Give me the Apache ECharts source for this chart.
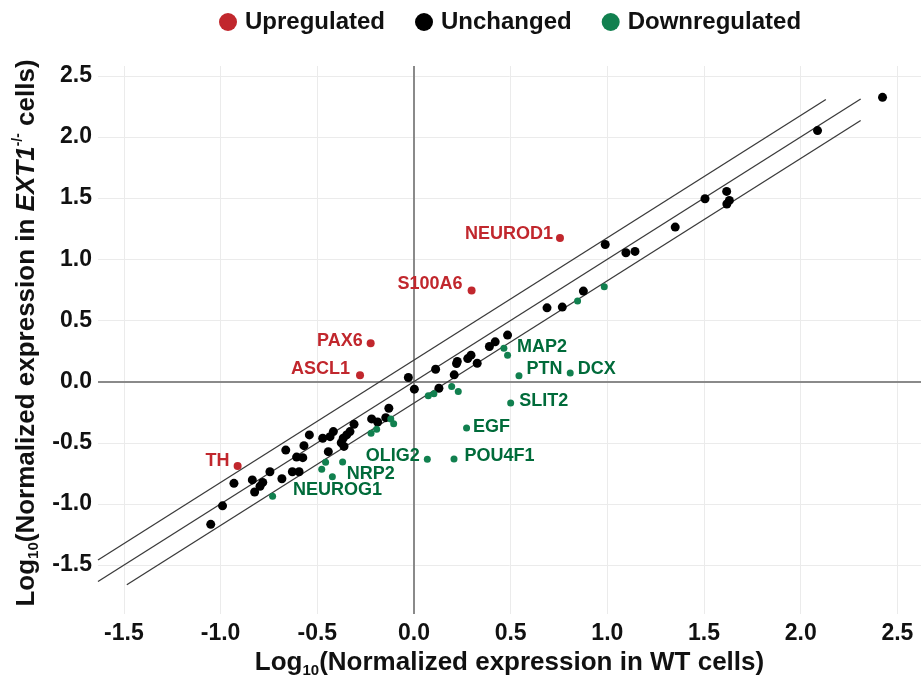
<!DOCTYPE html>
<html>
<head>
<meta charset="utf-8">
<script src="https://cdn.jsdelivr.net/npm/echarts@6/dist/echarts.min.js"></script>
<style>
  html, body { margin: 0; padding: 0; background: #fff; }
  #chart { width: 921px; height: 687px; }
</style>
</head>
<body>
<div id="chart"></div>
<script>
// tick values
const xTicks = [-1.5, -1.0, -0.5, 0.0, 0.5, 1.0, 1.5, 2.0, 2.5]
const yTicks = [-1.5, -1.0, -0.5, 0.0, 0.5, 1.0, 1.5, 2.0, 2.5]

// [log10 WT, log10 EXT1-/-, gene]
const upregulated = [
  [0.755, 1.173, 'NEUROD1'],
  [0.298, 0.745, 'S100A6'],
  [-0.224, 0.314, 'PAX6'],
  [-0.279, 0.052, 'ASCL1'],
  [-0.912, -0.690, 'TH']
]

const unchanged = [
  [2.423, 2.324], [2.087, 2.052], [1.617, 1.555], [1.631, 1.481], [1.618, 1.452],
  [1.505, 1.495], [1.351, 1.263], [0.989, 1.121], [1.096, 1.053], [1.143, 1.064],
  [0.876, 0.740], [0.688, 0.603], [0.767, 0.609], [0.484, 0.380], [0.420, 0.325],
  [0.390, 0.287], [0.327, 0.150], [0.295, 0.216], [0.278, 0.188], [0.224, 0.164],
  [0.220, 0.147], [0.112, 0.101], [0.208, 0.055], [0.129, -0.054], [-0.029, 0.033],
  [0.002, -0.062], [-0.130, -0.218], [-0.146, -0.295], [-0.219, -0.305], [-0.188, -0.330],
  [-0.310, -0.349], [-0.331, -0.409], [-0.348, -0.436], [-0.366, -0.463], [-0.376, -0.500],
  [-0.362, -0.530], [-0.417, -0.409], [-0.434, -0.450], [-0.472, -0.463], [-0.443, -0.573],
  [-0.541, -0.436], [-0.569, -0.524], [-0.663, -0.560], [-0.607, -0.617], [-0.575, -0.622],
  [-0.629, -0.737], [-0.594, -0.737], [-0.683, -0.794], [-0.745, -0.737], [-0.782, -0.824],
  [-0.796, -0.856], [-0.824, -0.903], [-0.836, -0.804], [-0.931, -0.832], [-0.990, -1.016],
  [-1.051, -1.167]
]

const downregulated = [
  [0.484, 0.216, 'MAP2'],
  [0.465, 0.273, ''],
  [0.543, 0.047, 'PTN'],
  [0.808, 0.071, 'DCX'],
  [0.500, -0.175, 'SLIT2'],
  [0.272, -0.379, 'EGF'],
  [0.069, -0.635, 'OLIG2'],
  [0.207, -0.633, 'POU4F1'],
  [-0.422, -0.777, 'NRP2'],
  [-0.731, -0.938, 'NEUROG1'],
  [-0.477, -0.717, ''], [-0.457, -0.660, ''], [-0.369, -0.657, ''],
  [-0.222, -0.423, ''], [-0.193, -0.390, ''], [-0.120, -0.305, ''],
  [-0.105, -0.344, ''], [0.074, -0.115, ''], [0.103, -0.100, ''],
  [0.195, -0.040, ''], [0.229, -0.082, ''], [0.846, 0.658, ''],
  [0.984, 0.775, '']
]

// 1.5-fold guide lines (end points)
const upperLine = [[-1.634, -1.458], [2.130, 2.306]]
const equalLine = [[-1.634, -1.634], [2.310, 2.310]]
const lowerLine = [[-1.485, -1.661], [2.310, 2.134]]

// label placement: [position, distance, dy]
const labelPlace = {
  NEUROD1: ['left', 3, -4], S100A6: ['left', 5, -6], PAX6: ['left', 4, -2],
  ASCL1: ['left', 6, -6], TH: ['left', 4, -5],
  MAP2: ['right', 6, -8], PTN: ['right', 4, -7], DCX: ['right', 4, -4],
  SLIT2: ['right', 5, -2], EGF: ['right', 3, -1], OLIG2: ['left', 4, -3],
  POU4F1: ['right', 7, -3], NRP2: ['right', 11, -3], NEUROG1: ['right', 17, -6]
}

const FONT = "'Liberation Sans', Arial, Helvetica, sans-serif"
const RED = '#c1272d'
const GREEN_DOT = '#11804f'
const GREEN_TXT = '#006b3a'

const toItems = (rows, color) => rows.map(r => {
  const item = { value: [r[0], r[1]] }
  const p = labelPlace[r[2]]
  if (r[2] && p) {
    item.label = {
      show: true,
      formatter: r[2],
      position: p[0],
      distance: p[1],
      offset: [0, p[2]],
      color: color,
      fontSize: 18,
      fontWeight: 'bold',
      fontFamily: FONT
    }
  }
  return item
})

const guide = (name, data) => ({
  name: name,
  type: 'line',
  data: data,
  symbol: 'none',
  silent: true,
  clip: false,
  lineStyle: { color: '#3a3a3a', width: 1.3 },
  z: 1
})

const chart = echarts.init(document.getElementById('chart'))

chart.setOption({
  animation: false,
  grid: { left: 98, right: 0, top: 66, bottom: 73 },
  legend: {
    data: ['Upregulated', 'Unchanged', 'Downregulated'],
    top: 5,
    left: 214,
    icon: 'circle',
    itemWidth: 18,
    itemHeight: 18,
    itemGap: 30,
    textStyle: {
      fontSize: 24, fontWeight: 'bold', color: '#111', fontFamily: FONT,
      padding: [0, 0, 0, 3]
    }
  },
  xAxis: {
    type: 'value',
    min: -1.634,
    max: 2.622,
    name: '{n|Log}{s|10}{n|(Normalized expression in WT cells)}',
    nameLocation: 'middle',
    nameGap: 20,
    nameTextStyle: {
      rich: {
        n: { fontSize: 26, fontWeight: 'bold', color: '#111', fontFamily: FONT, lineHeight: 30 },
        s: { fontSize: 15, fontWeight: 'bold', color: '#111', fontFamily: FONT, lineHeight: 14, verticalAlign: 'bottom' }
      }
    },
    axisLine: { show: false },
    axisTick: { show: false, customValues: xTicks },
    axisLabel: {
      customValues: xTicks,
      formatter: v => v.toFixed(1),
      fontSize: 23, fontWeight: 'bold', color: '#111', fontFamily: FONT,
      margin: 8
    },
    splitLine: { show: true, lineStyle: { color: '#ebebeb', width: 1 } }
  },
  yAxis: {
    type: 'value',
    min: -1.9,
    max: 2.58,
    name: '{n|Log}{s|10}{n|(Normalized expression in }{i|EXT1}{p|-/-}{n| cells)}',
    nameLocation: 'middle',
    nameRotate: 90,
    nameGap: 56,
    nameTextStyle: {
      padding: [0, 0, 0, 14],
      rich: {
        n: { fontSize: 26, fontWeight: 'bold', color: '#111', fontFamily: FONT, lineHeight: 30 },
        i: { fontSize: 26, fontWeight: 'bold', fontStyle: 'italic', color: '#111', fontFamily: FONT, lineHeight: 30 },
        s: { fontSize: 15, fontWeight: 'bold', color: '#111', fontFamily: FONT, lineHeight: 14, verticalAlign: 'bottom' },
        p: { fontSize: 14, fontWeight: 'bold', color: '#111', fontFamily: FONT, lineHeight: 14, verticalAlign: 'top' }
      }
    },
    axisLine: { show: false },
    axisTick: { show: false, customValues: yTicks },
    axisLabel: {
      customValues: yTicks,
      formatter: v => v.toFixed(1),
      fontSize: 23, fontWeight: 'bold', color: '#111', fontFamily: FONT,
      margin: 6
    },
    splitLine: { show: true, lineStyle: { color: '#ebebeb', width: 1 } }
  },
  series: [
    guide('upper', upperLine),
    guide('equal', equalLine),
    guide('lower', lowerLine),
    {
      name: 'Unchanged',
      type: 'scatter',
      data: toItems(unchanged, '#000'),
      symbolSize: 9,
      itemStyle: { color: '#000', opacity: 1 },
      z: 3,
      markLine: {
        silent: true,
        symbol: 'none',
        label: { show: false },
        lineStyle: { color: '#8a8a8a', width: 2, type: 'solid' },
        data: [{ xAxis: 0 }, { yAxis: 0 }],
        z: 0
      }
    },
    {
      name: 'Downregulated',
      type: 'scatter',
      data: toItems(downregulated, GREEN_TXT),
      symbolSize: 7,
      itemStyle: { color: GREEN_DOT, opacity: 1 },
      z: 4
    },
    {
      name: 'Upregulated',
      type: 'scatter',
      data: toItems(upregulated, RED),
      symbolSize: 8,
      itemStyle: { color: RED, opacity: 1 },
      z: 4
    }
  ]
})
</script>
</body>
</html>
